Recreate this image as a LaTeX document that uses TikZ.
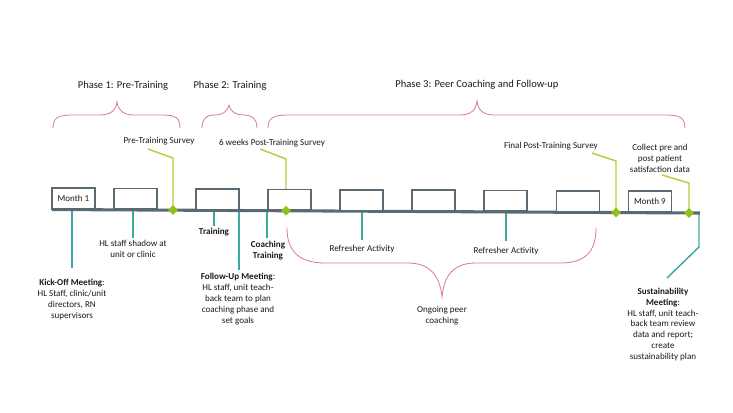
\documentclass[tikz,border=0pt]{standalone}
\usepackage{fontspec}
\setmainfont{Carlito}
\usetikzlibrary{shapes.geometric}
\definecolor{slate}{HTML}{5B6A72}
\definecolor{tealc}{HTML}{3AAA9E}
\definecolor{limec}{HTML}{B8CC3C}
\definecolor{diamc}{HTML}{8DC21F}
\definecolor{pinkc}{HTML}{D8798C}
\definecolor{txt}{HTML}{1A1A1A}
\tikzset{
  bracec/.style={draw=pinkc, line width=0.6pt},
  limeline/.style={draw=limec, line width=1.1pt},
  tealline/.style={draw=tealc, line width=1.1pt},
  monthbox/.style={draw=slate, fill=white, line width=1.2pt, minimum width=32pt, minimum height=15.5pt, anchor=south, inner sep=0pt},
  milestone/.style={diamond, fill=diamc, minimum size=7.5pt, inner sep=0pt},
  lbl/.style={text=txt, font=\fontsize{6.8}{8.2}\selectfont, align=center, inner sep=0pt},
  phaselbl/.style={text=txt, font=\fontsize{7.9}{9}\selectfont, inner sep=0pt},
}
\begin{document}
\begin{tikzpicture}[x=0.75pt, y=-0.75pt]
\useasboundingbox (0,0) rectangle (733,412);
% phase braces
\draw[bracec] (53,128) .. controls (53,118) and (58,115) .. (72,115) -- (100,115) .. controls (111,115) and (116,110) .. (117,102) .. controls (118,110) and (123,115) .. (134,115) -- (162,115) .. controls (176,115) and (180,118) .. (180,128);
\draw[bracec] (202,128) .. controls (202,119) and (206,115) .. (214,115) .. controls (223,115) and (228,111) .. (229,105) .. controls (230,111) and (235,115) .. (244,115) .. controls (252,115) and (257,119) .. (257,128);
\draw[bracec] (268,128) .. controls (268,118) and (273,115) .. (288,115) -- (460,115) .. controls (471,115) and (476,110) .. (477,101) .. controls (478,110) and (483,115) .. (494,115) -- (666,115) .. controls (680,115) and (685,118) .. (685,128);
% ongoing brace
\draw[bracec] (287,228) .. controls (287,252) and (300,263) .. (325,263) -- (408,263) .. controls (430,263) and (440,276) .. (442,297) .. controls (444,276) and (453,263) .. (476,263) -- (560,263) .. controls (585,263) and (596,252) .. (596,228);

% labels
\node[phaselbl] (ph1) at (123,86) {Phase 1: Pre-Training};
\node[phaselbl] (ph2) at (230,86) {Phase 2: Training};
\node[phaselbl] (ph3) at (477,85) {Phase 3: Peer Coaching and Follow-up};

% timeline coordinates
\coordinate (tlL) at (52,209.5);
\coordinate (tlR) at (700,213);
\coordinate (m1) at (173,210.1);
\coordinate (m2) at (286,210.8);
\coordinate (m3) at (616,212.5);
\coordinate (m4) at (689,212.9);

% lime callouts
\node[lbl] (preS) at (159,141) {Pre-Training Survey};
\node[lbl] (postS) at (272,143) {6 weeks Post-Training Survey};
\node[lbl] (finS) at (551,146) {Final Post-Training Survey};
\node[lbl] (coll) at (660,158) {Collect pre and\\post patient\\satisfaction data};
\coordinate (preE) at (148,149);
\coordinate (postE) at (260,149);
\coordinate (finE) at (592,153);
\coordinate (collE) at (662,175);
\draw[limeline] (m1) -- (173,158) -- (preE);
\draw[limeline] (m2) -- (286,159) -- (postE);
\draw[limeline] (m3) -- (616,161) -- (finE);
\draw[limeline] (m4) -- (689,183) -- (collE);

% teal connectors
\coordinate (t1) at (72,209.6);   \coordinate (t1e) at (72,268);
\coordinate (t2) at (133,210);    \coordinate (t2e) at (133,238);
\coordinate (t3) at (214,210.4);  \coordinate (t3e) at (214,226);
\coordinate (t4) at (239,210.5);  \coordinate (t4e) at (239,270);
\coordinate (t5) at (267,210.8);  \coordinate (t5e) at (267,238);
\coordinate (t6) at (362,211.2);  \coordinate (t6e) at (362,240);
\coordinate (t7) at (506,212);    \coordinate (t7e) at (506,241);
\coordinate (t8) at (699,213);    \coordinate (t8e) at (667,278);
\draw[tealline] (t1) -- (t1e);
\draw[tealline] (t2) -- (t2e);
\draw[tealline] (t3) -- (t3e);
\draw[tealline] (t4) -- (t4e);
\draw[tealline] (t5) -- (t5e);
\draw[tealline] (t6) -- (t6e);
\draw[tealline] (t7) -- (t7e);
\draw[tealline] (t8) -- (699,247) -- (t8e);

% timeline
\draw[draw=slate, line width=2.3pt] (tlL) -- (tlR);
\node[monthbox] (b1) at (73.5,209.6) {};
\node[monthbox] (b2) at (135.5,210) {};
\node[monthbox] (b3) at (217.5,210.4) {};
\node[monthbox] (b4) at (289.5,210.8) {};
\node[monthbox] (b5) at (361.5,211.2) {};
\node[monthbox] (b6) at (433.5,211.6) {};
\node[monthbox] (b7) at (505.5,212) {};
\node[monthbox] (b8) at (578,212.3) {};
\node[monthbox] (b9) at (650,212.7) {};
\node[lbl] (mo1) at (b1.center) {Month 1};
\node[lbl] (mo9) at (b9.center) {Month 9};
\foreach \m in {m1,m2,m3,m4} \node[milestone] at (\m) {};

% lower texts
\node[lbl] (kick) at (72,299.5) {\textbf{Kick-Off Meeting}:\\HL Staff, clinic/unit\\directors, RN\\supervisors};
\node[lbl] (shadow) at (133,249) {HL staff shadow at\\unit or clinic};
\node[lbl] (train) at (214,232) {\textbf{Training}};
\node[lbl] (coach) at (268,250.5) {\textbf{Coaching}\\\textbf{Training}};
\node[lbl] (follow) at (238,299) {\textbf{Follow-Up Meeting}:\\HL staff, unit teach-\\back team to plan\\coaching phase and\\set goals};
\node[lbl] (ref1) at (362,249) {Refresher Activity};
\node[lbl] (ref2) at (506,251) {Refresher Activity};
\node[lbl] (ongo) at (442,316) {Ongoing peer\\coaching};
\node[lbl] (sust) at (663,324.5) {\textbf{Sustainability}\\\textbf{Meeting}:\\HL staff, unit teach-\\back team review\\data and report;\\create\\sustainability plan};
\end{tikzpicture}
\end{document}
